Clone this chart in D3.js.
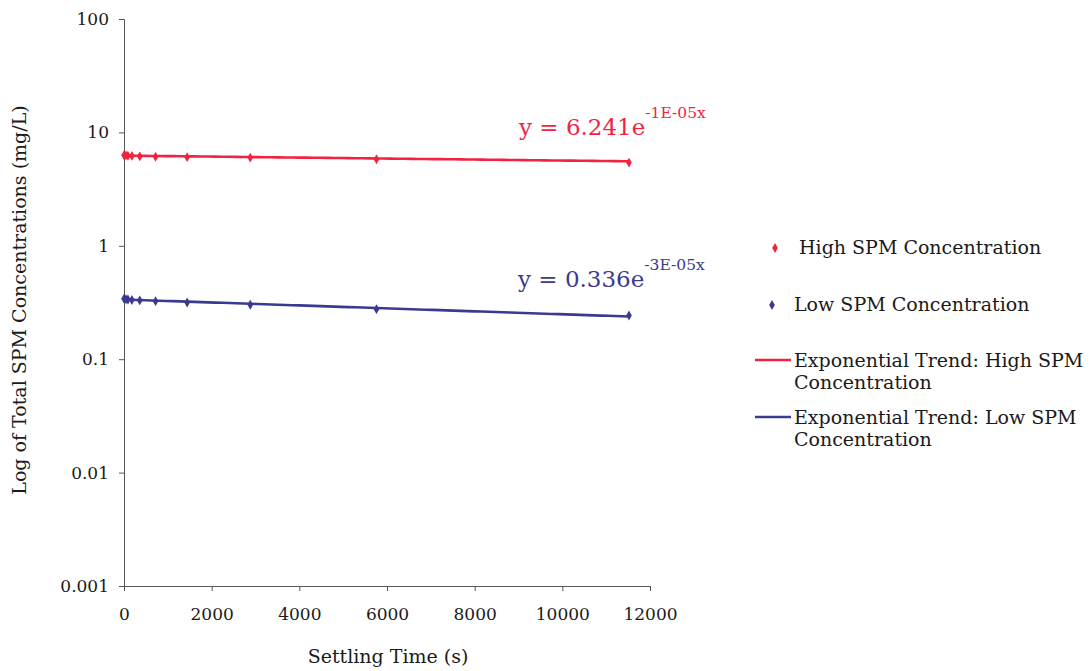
<!DOCTYPE html>
<html><head><meta charset="utf-8">
<script src="https://cdn.jsdelivr.net/npm/d3@7"></script>
<style>body{margin:0;background:#fff}svg{display:block}text{font-family:"DejaVu Serif","Liberation Serif",serif;fill:#1a1a1a}</style>
</head><body><svg id="c" width="1090" height="671"></svg>
<script>
const times = [0, 45, 90, 180, 360, 720, 1440, 2880, 5760, 11520];
const highSPM = [6.3, 6.27, 6.22, 6.2, 6.15, 6.1, 6.05, 6.0, 5.8, 5.42];
const lowSPM = [0.342, 0.338, 0.336, 0.333, 0.33, 0.325, 0.316, 0.302, 0.276, 0.243];
const highFit = {a: 6.241, b: -1e-5};
const lowFit = {a: 0.336, b: -3e-5};
const xTicks = [0, 2000, 4000, 6000, 8000, 10000, 12000];
const yTicks = [0.001, 0.01, 0.1, 1, 10, 100];
const yTickLabels = ["0.001", "0.01", "0.1", "1", "10", "100"];
const legendLabels = ["High SPM Concentration", "Low SPM Concentration",
  ["Exponential Trend: High SPM", "Concentration"], ["Exponential Trend: Low SPM", "Concentration"]];
const RED = "#f2233f", BLUE = "#3b3a8e";

const svg = d3.select("#c");
const x = d3.scaleLinear().domain([0, 12000]).range([124, 650]);
const y = d3.scaleLog().domain([0.001, 100]).range([586, 19]);

// axes
const xAxis = svg.append("g").attr("transform", `translate(0,${y(0.001)})`)
  .call(d3.axisBottom(x).tickValues(xTicks).tickFormat(d3.format("d")).tickSizeOuter(0).tickSize(5).tickPadding(17));
const yAxis = svg.append("g").attr("transform", `translate(${x(0)},0)`)
  .call(d3.axisLeft(y).tickValues(yTicks).tickFormat((d,i)=>yTickLabels[i]).tickSizeOuter(0).tickSize(5).tickPadding(10));
[xAxis, yAxis].forEach(g => {
  g.selectAll("path,line").attr("stroke", "#555").attr("stroke-width", 1);
  g.selectAll("text").style("font-size", "17px").attr("fill", "#1a1a1a");
});

// trend lines
const line = d3.line().x(d => x(d[0])).y(d => y(d[1]));
const fineT = d3.range(0, 11521, 160);
svg.append("path").datum(fineT.map(t=>[t, highFit.a*Math.exp(highFit.b*t)])).attr("d", line)
  .attr("fill", "none").attr("stroke", RED).attr("stroke-width", 2.6);
svg.append("path").datum(fineT.map(t=>[t, lowFit.a*Math.exp(lowFit.b*t)])).attr("d", line)
  .attr("fill", "none").attr("stroke", BLUE).attr("stroke-width", 2.6);

// points
const sym = d3.symbol().type(d3.symbolDiamond).size(28);
svg.append("g").selectAll("path").data(times).join("path")
  .attr("d", sym).attr("transform", (t,i)=>`translate(${x(t)},${y(highSPM[i])})`).attr("fill", RED);
svg.append("g").selectAll("path").data(times).join("path")
  .attr("d", sym).attr("transform", (t,i)=>`translate(${x(t)},${y(lowSPM[i])})`).attr("fill", BLUE);

// equations
function eq(xp, yp, base, exp, col) {
  const t = svg.append("text").attr("x", xp).attr("y", yp).style("font-size", "23px").style("fill", col);
  t.append("tspan").text(base);
  t.append("tspan").attr("dy", -17).style("font-size", "15.5px").text(exp);
}
eq(519, 135, "y = 6.241e", "-1E-05x", RED);
eq(518, 287, "y = 0.336e", "-3E-05x", BLUE);

// axis titles
svg.append("text").attr("x", 388).attr("y", 663).attr("text-anchor", "middle").style("font-size", "19px").text("Settling Time (s)");
svg.append("text").attr("transform", "translate(26,300) rotate(-90)").attr("text-anchor", "middle").style("font-size", "19px")
  .text("Log of Total SPM Concentrations (mg/L)");

// legend
const lg = svg.append("g");
lg.append("path").attr("d", sym).attr("transform", "translate(775,248)").attr("fill", RED);
lg.append("text").attr("x", 799).attr("y", 254).style("font-size", "19px").text(legendLabels[0]);
lg.append("path").attr("d", sym).attr("transform", "translate(772,305)").attr("fill", BLUE);
lg.append("text").attr("x", 794).attr("y", 311).style("font-size", "19px").text(legendLabels[1]);
[[360, RED, legendLabels[2]], [417, BLUE, legendLabels[3]]].forEach(([yy, col, lbl]) => {
  lg.append("line").attr("x1", 755).attr("x2", 791).attr("y1", yy).attr("y2", yy).attr("stroke", col).attr("stroke-width", 2.5);
  const t = lg.append("text").attr("x", 794).attr("y", yy + 7).style("font-size", "19px");
  t.append("tspan").text(lbl[0]);
  t.append("tspan").attr("x", 794).attr("dy", 22).text(lbl[1]);
});
</script></body></html>
